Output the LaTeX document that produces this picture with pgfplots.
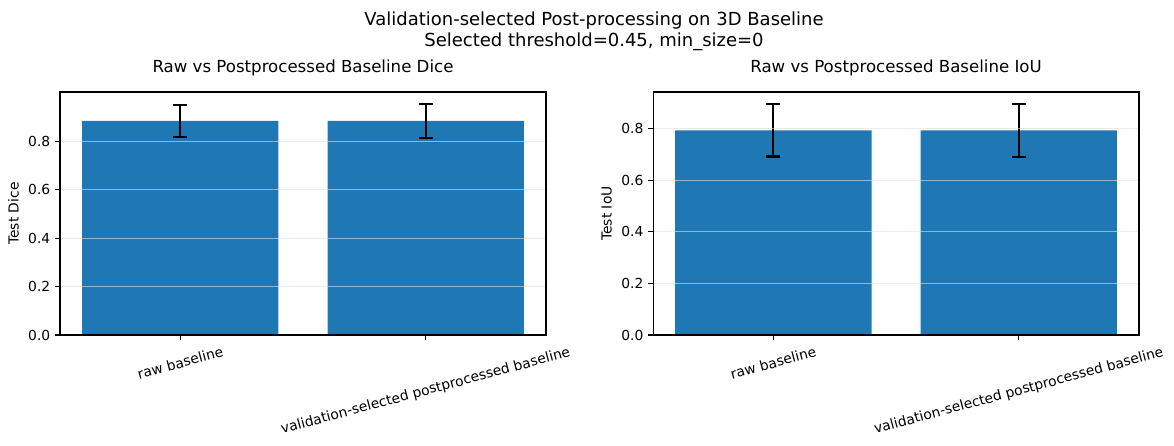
\documentclass[border=0pt]{standalone}
\usepackage{pgfplots}
\pgfplotsset{compat=1.18}
\usepackage{fontspec}
\setmainfont{DejaVu Sans}
\usepackage{graphicx}
\definecolor{mplblue}{HTML}{1F77B4}
\pgfplotsset{
  myax/.style={
    scale only axis,
    width=349.9bp, height=175bp,
    anchor=south west,
    axis on top,
    ybar, bar width=0.8,
    xmin=-0.49, xmax=1.49, ymin=0,
    xtick={0,1},
    xticklabels={\rotatebox{15}{raw baseline},\rotatebox{15}{validation-selected postprocessed baseline}},
    xticklabel style={anchor=north, font=\fontsize{10}{12}\selectfont, yshift=-1bp},
    ytick={0,0.2,0.4,0.6,0.8},
    yticklabel style={font=\fontsize{10}{12}\selectfont},
    /pgf/number format/assume math mode=true,
    /pgf/number format/fixed, /pgf/number format/fixed zerofill, /pgf/number format/precision=1,
    tick align=outside, major tick length=3.5bp,
    tick style={black, line width=0.8bp},
    xtick pos=bottom, ytick pos=left,
    axis line style={line width=0.8bp},
    ymajorgrids, grid style={black!12, line width=0.8bp, opacity=0.6},
    title style={font=\fontsize{12}{14}\selectfont, at={(0.5,1)}, anchor=base, yshift=8bp},
    ylabel style={font=\fontsize{10}{12}\selectfont},
  },
  mybar/.style={
    fill=mplblue, draw=none, mark=none,
    error bars/.cd, y dir=both, y explicit,
    error bar style={black, line width=1.5bp},
    error mark options={rotate=90, black, line width=1.5bp, mark size=5bp},
  }
}
\begin{document}
\begin{tikzpicture}
\useasboundingbox (0,0) rectangle (845.28bp,321.12bp);
\begin{axis}[myax, at={(43.2bp,79.9bp)}, ymax=1.004,
  title={Raw vs Postprocessed Baseline Dice}, ylabel={Test Dice}]
\addplot[mybar] coordinates {
 (0,0.885) +- (0,0.067)
 (1,0.885) +- (0,0.071)
};
\end{axis}
\begin{axis}[myax, at={(470.2bp,79.9bp)}, ymax=0.942,
  title={Raw vs Postprocessed Baseline IoU}, ylabel={Test IoU}]
\addplot[mybar] coordinates {
 (0,0.793) +- (0,0.101)
 (1,0.793) +- (0,0.102)
};
\end{axis}
\node[anchor=base, font=\fontsize{13}{15}\selectfont] at (427.7bp,303.1bp) {Validation-selected Post-processing on 3D Baseline};
\node[anchor=base, font=\fontsize{13}{15}\selectfont] at (427.7bp,287.3bp) {Selected threshold=0.45, min\_size=0};
\end{tikzpicture}
\end{document}
